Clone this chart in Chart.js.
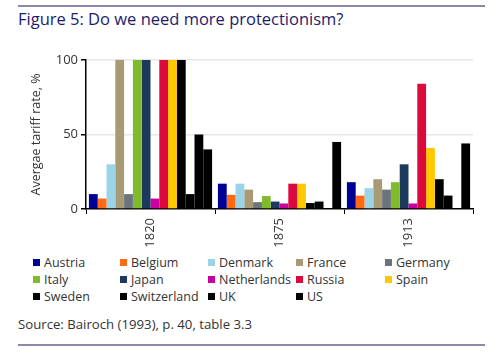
<!DOCTYPE html>
<html><head><meta charset="utf-8">
<script src="https://cdn.jsdelivr.net/npm/chart.js@4"></script>
<style>
html,body{margin:0;padding:0;background:#fff;width:500px;height:356px;overflow:hidden;font-family:"Open Sans","Noto Sans",sans-serif;}
.rule{position:absolute;left:18px;width:467px;height:2px;background:#8a8aa8;}
#title{position:absolute;left:18px;top:7px;font-size:16.5px;color:#1c1c6a;white-space:nowrap;}
#wrap{position:absolute;left:18px;top:45px;width:465px;height:202px;}
#legend{position:absolute;left:33px;top:255px;width:460px;}
.li{position:absolute;font-size:12.5px;color:#333;white-space:nowrap;line-height:16px;}
.li span{display:inline-block;width:7px;height:7px;margin-right:4px;vertical-align:1px;}
#source{position:absolute;left:18px;top:315px;font-size:13.2px;color:#333;white-space:nowrap;}
</style></head>
<body>
<div class="rule" style="top:5px"></div>
<div id="title">Figure 5: Do we need more protectionism?</div>
<div id="wrap"><canvas id="c"></canvas></div>
<div id="legend"></div>
<div id="source">Source: Bairoch (1993), p. 40, table 3.3</div>
<div class="rule" style="top:344px"></div>
<script>
const years = ["1820", "1875", "1913"];
const countries = ["Austria","Belgium","Denmark","France","Germany","Italy","Japan","Netherlands","Russia","Spain","Sweden","Switzerland","UK","US"];
const colors = ["#000096","#ff6a13","#9ad4e6","#a89a74","#6b747b","#80bb2c","#1b3a5e","#c800a0","#dc0a3c","#ffc800","#000000","#000000","#000000","#000000"];
const austria     = [10, 17, 18];
const belgium     = [7, 9.5, 9];
const denmark     = [30, 17, 14];
const france      = [100, 13, 20];
const germany     = [10, 4.6, 13];
const italy       = [100, 8.7, 18];
const japan       = [100, 5, 30];
const netherlands = [7, 3.7, 3.7];
const russia      = [100, 17, 84];
const spain       = [100, 17, 41];
const sweden      = [100, 4, 20];
const switzerland = [10, 5, 9];
const uk          = [50, 0, 0];
const us          = [40, 45, 44];
const yTicks = [0, 50, 100];

const series = [austria,belgium,denmark,france,germany,italy,japan,netherlands,russia,spain,sweden,switzerland,uk,us];
const datasets = countries.map((n,i)=>({label:n,data:series[i],backgroundColor:colors[i],borderWidth:0,barPercentage:1,categoryPercentage:0.955}));

const font = {family:"'Open Sans','Noto Sans',sans-serif", size:13};
const tfont = {family:"'Open Sans','Noto Sans',sans-serif", size:12.5};
new Chart(document.getElementById('c'), {
  type:'bar',
  data:{labels:years, datasets},
  options:{
    responsive:true, maintainAspectRatio:false, animation:false,
    layout:{padding:{top:15,right:10,left:11,bottom:0}},
    plugins:{legend:{display:false}, tooltip:{enabled:false}},
    scales:{
      x:{
        grid:{offset:true, drawOnChartArea:false, drawTicks:true, tickLength:5, color:'#000'},
        border:{color:'#000', width:1.5},
        ticks:{minRotation:90, maxRotation:90, color:'#333', font, padding:4},
        afterFit:(s)=>{s.height=38;}
      },
      y:{
        min:0, max:100,
        afterBuildTicks:(s)=>{s.ticks = yTicks.map(v=>({value:v}));},
        grid:{color:(ctx)=>ctx.tick && ctx.tick.value===0?'rgba(0,0,0,0)':'#e8e8e8', tickColor:'#000', tickLength:5, drawTicks:true, lineWidth:1.5},
        border:{color:'#000', width:1.5},
        ticks:{color:'#333', font, padding:3},
        title:{display:true, text:'Avergae tariff rate, %', color:'#333', font:tfont, padding:{top:0,bottom:0}},
        afterFit:(s)=>{s.width=57;}
      }
    }
  }
});

const lg = document.getElementById('legend');
const colX = [0, 87, 175, 263, 352];
countries.forEach((n,i)=>{
  const d = document.createElement('div');
  d.className='li';
  d.style.left = colX[i%5]+'px';
  d.style.top = (Math.floor(i/5)*17)+'px';
  d.innerHTML = '<span style="background:'+colors[i]+'"></span>'+n;
  lg.appendChild(d);
});
</script>
</body></html>
